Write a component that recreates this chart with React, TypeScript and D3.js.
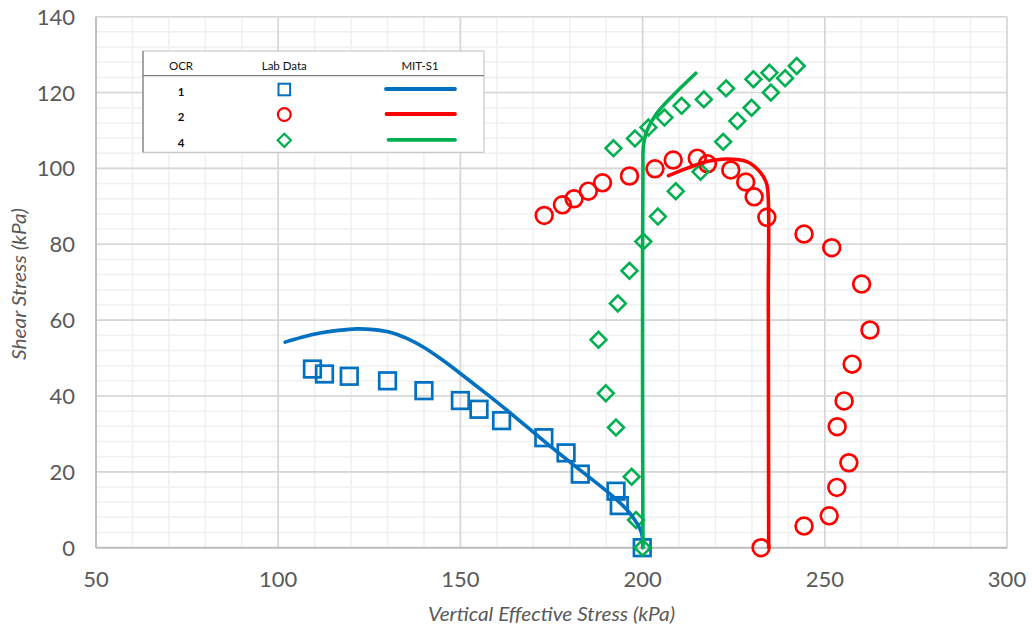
import React from "react";
import * as d3 from "d3";

// Axis ticks
const xTicks = [50, 100, 150, 200, 250, 300];
const yTicks = [0, 20, 40, 60, 80, 100, 120, 140];

// Lab data (vertical effective stress, shear stress) in kPa
const ocr1Lab: [number, number][] = [
  [109.4, 47.1], [112.7, 45.8], [119.5, 45.2], [130.0, 44.0], [140.0, 41.4],
  [150.0, 38.8], [155.1, 36.5], [161.3, 33.5], [172.9, 29.0], [179.0, 25.0],
  [182.9, 19.4], [192.7, 14.9], [193.6, 11.1], [199.9, 0],
];

const ocr2Lab: [number, number][] = [
  [173.0, 87.6], [178.0, 90.4], [181.2, 92.0], [185.1, 94.0], [189.0, 96.2],
  [196.4, 98.0], [203.4, 99.9], [208.4, 102.2], [215.0, 102.7], [217.8, 101.2],
  [224.2, 99.6], [228.3, 96.4], [230.6, 92.5], [234.1, 87.1], [244.3, 82.7],
  [251.9, 79.1], [260.1, 69.5], [262.4, 57.4], [257.5, 48.4], [255.3, 38.7],
  [253.4, 31.9], [256.6, 22.4], [253.3, 15.9], [251.2, 8.4], [244.3, 5.7],
  [232.5, 0],
];

const ocr4Lab: [number, number][] = [
  [200.0, 0], [198.2, 7.3], [197.0, 18.7], [192.7, 31.7], [189.9, 40.7],
  [187.9, 54.8], [193.2, 64.4], [196.4, 73.0], [200.2, 80.7], [204.2, 87.3],
  [209.1, 94.0], [215.9, 99.1], [222.1, 107.0], [226.0, 112.5], [229.9, 116.0],
  [235.2, 120.0], [239.1, 123.8], [242.3, 127.0],
  [192.0, 105.3], [197.9, 107.9], [201.6, 110.8], [206.0, 113.4], [210.7, 116.5],
  [216.8, 118.2], [222.9, 121.1], [230.4, 123.5], [234.8, 125.2],
];

// MIT-S1 model predictions
const ocr1Model: [number, number][] = [
  [101.9, 54.2], [106.5, 55.5], [111.5, 56.6], [116.5, 57.3], [121.5, 57.7],
  [126.1, 57.5], [130.7, 56.8], [135.3, 55.2], [139.8, 52.9], [144.9, 49.6],
  [149.9, 46.0], [156.3, 41.2], [162.7, 36.3], [173.7, 27.5], [182.8, 20.5],
  [192.0, 13.4], [196.5, 9.1], [199.7, 3.9], [200.0, 0],
];

const ocr2Model: [number, number][] = [
  [207.1, 98.1], [212.1, 100.0], [217.6, 101.8], [223.1, 102.5], [228.6, 101.8],
  [232.2, 99.1], [234.0, 96.1], [234.5, 91.7], [234.5, 65.3], [234.6, 0],
];

const ocr4Model: [number, number][] = [
  [200.1, 0], [200.0, 38.9], [200.0, 78.5], [200.1, 99.6], [200.2, 105.7],
  [201.1, 109.7], [203.9, 114.5], [208.4, 119.3], [214.6, 125.1],
];

const legendRows = ["1", "2", "4"];

const BLUE = "#0070C0";
const RED = "#FF0000";
const GREEN = "#00B050";
const FONT = "Lato, 'Open Sans', sans-serif";

export default function App() {
  const W = 1032;
  const H = 629;
  const x = d3.scaleLinear().domain([50, 300]).range([96, 1007]);
  const y = d3.scaleLinear().domain([0, 140]).range([547.7, 16.7]);

  const line = d3
    .line<[number, number]>()
    .x((d) => x(d[0]))
    .y((d) => y(d[1]))
    .curve(d3.curveCatmullRom.alpha(0.5));

  const xMinor = d3.range(50, 301, 10);
  const yMinor = d3.range(0, 141, 4);

  const sq = 16.6;
  const dia = 7.9;
  const diamond = (cx: number, cy: number, r: number) =>
    `M${cx},${cy - r}L${cx + r},${cy}L${cx},${cy + r}L${cx - r},${cy}Z`;

  // legend geometry
  const lx0 = 143, lx1 = 484, ly0 = 51, ly1 = 152.3, lsep = 75.7;
  const rowY = [89.5, 114.5, 140.3];
  const colOcr = 181, colLab = 284.3, colModel = 420;
  const legendColors = [BLUE, RED, GREEN];
  const lineStarts = [386, 386.5, 388.5];

  return (
    <svg
      width={W}
      height={H}
      style={{ position: "absolute", left: 0, top: 0, background: "#fff" }}
      fontFamily={FONT}
    >
      <rect x={0} y={0} width={W} height={H} fill="#fff" />

      {/* minor grid */}
      <g stroke="#f0f0f0" strokeWidth={1.5}>
        {xMinor.map((v) => (
          <line key={"xm" + v} x1={x(v)} x2={x(v)} y1={y(0)} y2={y(140)} />
        ))}
        {yMinor.map((v) => (
          <line key={"ym" + v} x1={x(50)} x2={x(300)} y1={y(v)} y2={y(v)} />
        ))}
      </g>
      {/* major grid */}
      <g stroke="#d6d6d6" strokeWidth={1.6}>
        {xTicks.map((v) => (
          <line key={"xM" + v} x1={x(v)} x2={x(v)} y1={y(0)} y2={y(140)} />
        ))}
        {yTicks.map((v) => (
          <line key={"yM" + v} x1={x(50)} x2={x(300)} y1={y(v)} y2={y(v)} />
        ))}
      </g>
      {/* axis lines */}
      <g stroke="#bfbfbf" strokeWidth={2}>
        <line x1={x(50)} x2={x(50)} y1={y(0)} y2={y(140)} />
        <line x1={x(50)} x2={x(300)} y1={y(0)} y2={y(0)} />
      </g>

      {/* tick labels */}
      <g fill="#595959" fontSize={22}>
        {xTicks.map((v) => (
          <text key={"xt" + v} x={x(v)} y={587} textAnchor="middle">
            {v}
          </text>
        ))}
        {yTicks.map((v) => (
          <text key={"yt" + v} x={75} y={y(v) + 8} textAnchor="end">
            {v}
          </text>
        ))}
      </g>

      {/* axis titles */}
      <text
        x={551.5}
        y={621}
        textAnchor="middle"
        fill="#595959"
        fontSize={18.5}
        fontStyle="italic"
        textLength={247}
        lengthAdjust="spacingAndGlyphs"
      >
        Vertical Effective Stress (kPa)
      </text>
      <text
        transform={`translate(26,284) rotate(-90)`}
        textAnchor="middle"
        fill="#595959"
        fontSize={18.5}
        fontStyle="italic"
        textLength={152}
        lengthAdjust="spacingAndGlyphs"
      >
        Shear Stress (kPa)
      </text>

      {/* lab data markers */}
      <g fill="none" stroke={BLUE} strokeWidth={2.7}>
        {ocr1Lab.map((d, i) => (
          <rect
            key={"s" + i}
            x={x(d[0]) - sq / 2}
            y={y(d[1]) - sq / 2}
            width={sq}
            height={sq}
          />
        ))}
      </g>
      <g fill="none" stroke={RED} strokeWidth={2.7}>
        {ocr2Lab.map((d, i) => (
          <circle key={"c" + i} cx={x(d[0])} cy={y(d[1])} r={8.4} />
        ))}
      </g>
      <g fill="none" stroke={GREEN} strokeWidth={2.6}>
        {ocr4Lab.map((d, i) => (
          <path key={"d" + i} d={diamond(x(d[0]), y(d[1]), dia)} />
        ))}
      </g>

      {/* model curves */}
      <g fill="none" strokeWidth={3.6} strokeLinecap="round" strokeLinejoin="round">
        <path d={line(ocr1Model) || ""} stroke={BLUE} />
        <path d={line(ocr2Model) || ""} stroke={RED} />
        <path d={line(ocr4Model) || ""} stroke={GREEN} />
      </g>

      {/* legend table */}
      <g>
        <rect
          x={lx0}
          y={ly0}
          width={lx1 - lx0}
          height={ly1 - ly0}
          fill="#fff"
          stroke="#bfbfbf"
          strokeWidth={1}
        />
        <line x1={lx0} x2={lx0} y1={ly0} y2={ly1} stroke="#7f7f7f" strokeWidth={1.2} />
        <line x1={lx0} x2={lx1} y1={lsep} y2={lsep} stroke="#7f7f7f" strokeWidth={1.2} />
        <g fontSize={11.5} fill="#111" textAnchor="middle">
          <text x={colOcr} y={70}>OCR</text>
          <text x={colLab} y={70}>Lab Data</text>
          <text x={colModel} y={70}>MIT-S1</text>
        </g>
        <g fontSize={11.5} fill="#111" textAnchor="middle" fontWeight={700}>
          {legendRows.map((r, i) => (
            <text key={"lr" + r} x={colOcr} y={rowY[i] + 6.5}>
              {r}
            </text>
          ))}
        </g>
        <rect
          x={colLab - 5.8}
          y={rowY[0] - 5.8}
          width={11.6}
          height={11.6}
          fill="none"
          stroke={BLUE}
          strokeWidth={2}
        />
        <circle cx={colLab} cy={rowY[1]} r={6.4} fill="none" stroke={RED} strokeWidth={2.2} />
        <path d={diamond(colLab, rowY[2], 6.6)} fill="none" stroke={GREEN} strokeWidth={2.2} />
        {legendRows.map((r, i) => (
          <line
            key={"ll" + r}
            x1={lineStarts[i]}
            x2={455}
            y1={rowY[i] - 0.5}
            y2={rowY[i] - 0.5}
            stroke={legendColors[i]}
            strokeWidth={3.8}
            strokeLinecap="round"
          />
        ))}
      </g>
    </svg>
  );
}
